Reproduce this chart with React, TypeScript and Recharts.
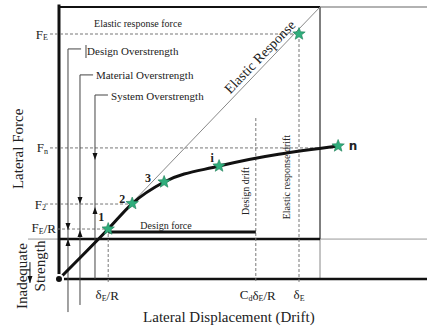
import React from 'react';
import {
  ComposedChart,
  Line,
  Scatter,
  XAxis,
  YAxis,
  ReferenceLine,
  ReferenceDot,
} from 'recharts';

// force levels (y) and drift levels (x), in chart units
const FE = 10;
const FN = 5.35;
const F2 = 3.06;
const FE_R = 2.04;
const DESIGN_FORCE = 1.92;
const MIN_STRENGTH = 1.63;
const DELTA_E = 10;
const DELTA_E_R = 2.05;
const DESIGN_DRIFT = 8.2;
const BOX_X = 10.875;
const BOX_TOP = 11.1;

const pushover = [
  { x: 0, y: 0 },
  { x: 2.05, y: 2.04 },
  { x: 3.05, y: 3.08 },
  { x: 4.38, y: 3.96 },
  { x: 6.67, y: 4.61 },
  { x: 11.63, y: 5.43 },
];
const elastic = [
  { x: 0, y: 0 },
  { x: BOX_X, y: BOX_TOP },
];
const stars = [...pushover.slice(1), { x: DELTA_E, y: FE }];
const starNames = ['1', '2', '3', 'i', 'n'];
// overstrength dimension lines: x, top, bottom, down-arrow tip, up-arrow tip
const dims = [
  { name: 'Design Overstrength', x: 0.375, top: 9.39, bottom: -1.35, down: 2.0, up: 1.63 },
  { name: 'Material Overstrength', x: 0.875, top: 8.33, bottom: -1.06, down: F2, up: 2.0 },
  { name: 'System Overstrength', x: 1.5, top: 7.51, bottom: 0, down: 4.86, up: 2.94 },
];

const SERIF = '"Liberation Serif", "Times New Roman", serif';
const labelOffsets = [
  [-7, -12],
  [-10, -5],
  [-16, -4],
  [-7, -8],
  [15, 0],
];

const starPath = (cx: number, cy: number, R = 6.5, r = 2.8) => {
  let d = '';
  for (let i = 0; i < 10; i++) {
    const a = -Math.PI / 2 + (i * Math.PI) / 5;
    const rad = i % 2 === 0 ? R : r;
    d += (i ? 'L' : 'M') + (cx + rad * Math.cos(a)).toFixed(2) + ',' + (cy + rad * Math.sin(a)).toFixed(2);
  }
  return d + 'Z';
};

const seg = (x1: number, y1: number, x2: number, y2: number, stroke: string, w: number, dash?: string, key?: string) => (
  <ReferenceLine
    key={key}
    segment={[
      { x: x1, y: y1 },
      { x: x2, y: y2 },
    ]}
    stroke={stroke}
    strokeWidth={w}
    strokeDasharray={dash}
    ifOverflow="visible"
  />
);

const note = (
  x: number,
  y: number,
  content: React.ReactNode,
  opts: { size?: number; anchor?: string; angle?: number; weight?: string; dx?: number; dy?: number; family?: string } = {},
  key?: string,
) => (
  <ReferenceDot
    key={key}
    x={x}
    y={y}
    r={0}
    ifOverflow="visible"
    shape={(p: any) => {
      const cx = p.cx + (opts.dx || 0);
      const cy = p.cy + (opts.dy || 0);
      return (
        <text
          x={cx}
          y={cy}
          fontSize={opts.size || 10}
          fontFamily={opts.family || SERIF}
          fontWeight={opts.weight || 'normal'}
          textAnchor={opts.anchor || 'middle'}
          dominantBaseline="central"
          fill="#222"
          transform={opts.angle ? `rotate(${opts.angle} ${cx} ${cy})` : undefined}
        >
          {content}
        </text>
      );
    }}
  />
);

const arrow = (x: number, y: number, dir: 'up' | 'down', key?: string) => (
  <ReferenceDot
    key={key}
    x={x}
    y={y}
    r={0}
    ifOverflow="visible"
    shape={(p: any) => (
      <path
        d={
          dir === 'down'
            ? `M${p.cx},${p.cy} l-2.5,-7 l5,0 z`
            : `M${p.cx},${p.cy} l-2.5,7 l5,0 z`
        }
        fill="#111"
      />
    )}
  />
);

const sub = (s: string) => (
  <tspan fontSize="8" dy="3">
    {s}
  </tspan>
);

export default function App() {
  return (
    <div style={{ position: 'absolute', left: 0, top: 0, width: 427, height: 332, background: '#fff' }}>
      <ComposedChart width={427} height={332} margin={{ top: 0, right: 0, bottom: 0, left: 0 }}>
        <XAxis type="number" dataKey="x" domain={[-2.4583, 15.3333]} allowDataOverflow hide />
        <YAxis type="number" dataKey="y" domain={[-2.1633, 11.3878]} allowDataOverflow hide />

        {/* frame */}
        {seg(BOX_X, BOX_TOP, 15.4, BOX_TOP, '#999', 1.5)}
        {seg(BOX_X, MIN_STRENGTH, 15.4, MIN_STRENGTH, '#999', 1)}
        {seg(-1.29, MIN_STRENGTH, 0, MIN_STRENGTH, '#999', 1)}
        {seg(BOX_X, MIN_STRENGTH, BOX_X, 0, '#888', 1)}
        {seg(BOX_X, BOX_TOP, BOX_X, MIN_STRENGTH, '#555', 1.5)}
        {seg(0, BOX_TOP, BOX_X, BOX_TOP, '#111', 2)}
        {seg(0, MIN_STRENGTH, BOX_X, MIN_STRENGTH, '#111', 2.5)}
        {seg(0, 0, 15.4, 0, '#111', 2.5)}
        {seg(0, 0, 0, 11.2, '#111', 3)}

        {/* dashed guides */}
        {seg(-0.375, FE, DELTA_E, FE, '#777', 1, '3 2')}
        {seg(-0.375, FN, 11.5, FN, '#777', 1, '3 2')}
        {seg(-0.58, F2, 3.05, F2, '#777', 1, '3 2')}
        {seg(-0.29, FE_R, DELTA_E_R, FE_R, '#777', 1, '3 2')}
        {seg(DELTA_E_R, FE_R, DELTA_E_R, -0.12, '#777', 1, '3 2')}
        {seg(DESIGN_DRIFT, 6.57, DESIGN_DRIFT, -0.12, '#777', 1, '3 2')}
        {seg(DELTA_E, FE, DELTA_E, -0.12, '#777', 1, '3 2')}

        {/* overstrength dimensions */}
        {dims.map((d, i) => seg(d.x, d.top, d.x, d.bottom, '#444', 1, undefined, 'v' + i))}
        {seg(0.375, 9.39, 0.92, 9.39, '#444', 1)}
        {seg(1.125, 9.55, 1.125, 9.02, '#444', 1)}
        {seg(0.875, 8.33, 1.42, 8.33, '#444', 1)}
        {seg(1.5, 7.51, 2.04, 7.51, '#444', 1)}
        {dims.map((d, i) => arrow(d.x, d.down, 'down', 'ad' + i))}
        {dims.map((d, i) => arrow(d.x, d.up, 'up', 'au' + i))}
        {note(1.17, 9.31, dims[0].name, { size: 11, anchor: 'start' })}
        {note(1.54, 8.33, dims[1].name, { size: 11, anchor: 'start' })}
        {note(2.17, 7.47, dims[2].name, { size: 11, anchor: 'start' })}

        {/* design force */}
        {seg(DELTA_E_R, DESIGN_FORCE, DESIGN_DRIFT, DESIGN_FORCE, '#111', 3)}

        <Line data={elastic} dataKey="y" stroke="#888" strokeWidth={1} dot={false} isAnimationActive={false} />
        <Line
          data={pushover}
          dataKey="y"
          type="monotone"
          stroke="#111"
          strokeWidth={3}
          dot={false}
          isAnimationActive={false}
        />
        <Scatter
          data={stars}
          isAnimationActive={false}
          shape={(p: any) => <path d={starPath(p.cx, p.cy)} fill="#2fae7c" stroke="#1f7d58" strokeWidth={0.6} />}
        />
        {starNames.map((s, i) =>
          note(stars[i].x, stars[i].y, s, {
            size: 12,
            weight: 'bold',
            dx: labelOffsets[i][0],
            dy: labelOffsets[i][1],
            family: i === 4 ? '"DejaVu Sans", sans-serif' : SERIF,
          }, 'sl' + i),
        )}

        {/* labels */}
        {note(3.29, 10.41, 'Elastic response force', { size: 10 })}
        {note(8.375, 9.06, 'Elastic Response', { size: 14, angle: -46 })}
        {note(4.46, 2.2, 'Design force', { size: 10 })}
        {note(7.79, 3.59, 'Design drift', { size: 10, angle: -90 })}
        {note(9.5, 4.16, 'Elastic response drift', { size: 10, angle: -90 })}

        {note(-0.46, FE, <>F{sub('E')}</>, { size: 13, anchor: 'end' })}
        {note(-0.46, FN, <>F{sub('n')}</>, { size: 13, anchor: 'end' })}
        {note(-0.54, F2, <>F{sub('2')}</>, { size: 13, anchor: 'end' })}
        {note(-0.125, 2.1, <>F{sub('E')}<tspan dy="-3">/R</tspan></>, { size: 13, anchor: 'end' })}

        {note(DELTA_E_R, -0.65, <>δ{sub('E')}<tspan dy="-3">/R</tspan></>, { size: 13, dx: -1 })}
        {note(DESIGN_DRIFT, -0.65, <>C{sub('d')}<tspan dy="-3">δ</tspan>{sub('E')}<tspan dy="-3">/R</tspan></>, { size: 13, dx: 2 })}
        {note(DELTA_E, -0.65, <>δ{sub('E')}</>, { size: 13 })}

        {note(7.08, -1.55, 'Lateral Displacement (Drift)', { size: 15 })}
        {note(-1.71, 5.31, 'Lateral Force', { size: 15, angle: -90 })}
        {note(-1.54, 0.12, 'Inadequate', { size: 15, angle: -90 })}
        {note(-0.79, 0.53, 'Strength', { size: 15, angle: -90 })}
        {seg(-1.21, 0.69, -1.21, -0.16, '#222', 1)}
        {arrow(-1.21, -0.16, 'down')}
      </ComposedChart>
    </div>
  );
}
